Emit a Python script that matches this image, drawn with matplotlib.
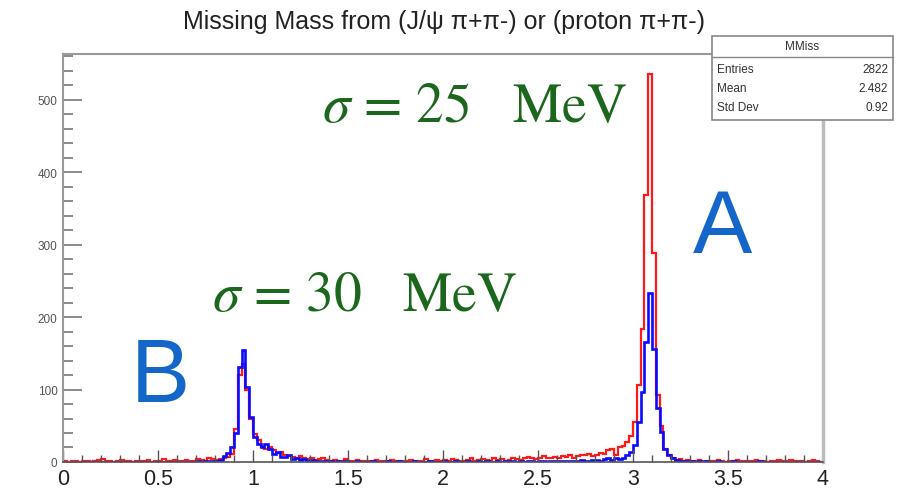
import numpy as np
import matplotlib
matplotlib.use('Agg')
import matplotlib.pyplot as plt
from matplotlib.patches import Rectangle
from matplotlib.lines import Line2D

# histogram binning: 200 bins of 0.02 GeV between 0 and 4
bin_edges = np.linspace(0, 4, 201)

# red histogram (counts per bin)
red_counts = [
    1, 0, 2, 1, 0, 1, 2, 0, 1, 3,
    4, 2, 1, 0, 2, 3, 1, 2, 0, 1,
    2, 1, 3, 0, 1, 2, 4, 1, 2, 3,
    1, 2, 3, 1, 2, 4, 3, 2, 5, 4,
    3, 4, 5, 7, 11, 46, 120, 135, 100, 60,
    38, 30, 21, 18, 20, 16, 12, 14, 9, 8,
    7, 6, 8, 5, 4, 6, 3, 4, 5, 3,
    2, 3, 1, 2, 4, 2, 1, 3, 2, 1,
    2, 1, 3, 2, 1, 2, 3, 1, 2, 2,
    1, 3, 2, 1, 2, 4, 2, 1, 3, 2,
    3, 2, 4, 3, 2, 1, 3, 5, 2, 3,
    4, 3, 2, 5, 3, 4, 2, 3, 5, 4,
    3, 5, 7, 6, 4, 5, 8, 6, 5, 7,
    6, 8, 7, 9, 6, 8, 10, 9, 11, 8,
    10, 13, 11, 17, 18, 10, 20, 22, 28, 36,
    55, 106, 184, 368, 535, 288, 92, 50, 18, 9,
    5, 3, 4, 2, 3, 1, 2, 3, 1, 2,
    1, 2, 3, 1, 0, 2, 1, 3, 1, 2,
    2, 1, 3, 2, 1, 0, 2, 1, 3, 1,
    1, 3, 2, 1, 2, 0, 1, 3, 1, 0,
]

# blue histogram (counts per bin)
blue_counts = [
    0, 0, 0, 0, 0, 0, 0, 0, 0, 0,
    0, 0, 0, 0, 0, 0, 0, 0, 0, 0,
    0, 0, 0, 0, 0, 0, 0, 0, 0, 0,
    0, 0, 0, 0, 0, 1, 0, 1, 2, 1,
    2, 3, 8, 13, 20, 40, 131, 154, 103, 62,
    35, 25, 21, 25, 18, 11, 14, 7, 7, 10,
    4, 5, 3, 4, 2, 3, 2, 1, 2, 1,
    1, 0, 1, 0, 1, 0, 0, 1, 0, 0,
    0, 1, 0, 0, 0, 1, 0, 0, 1, 0,
    0, 0, 1, 0, 0, 0, 1, 0, 0, 0,
    1, 0, 0, 1, 0, 0, 1, 0, 0, 1,
    0, 1, 0, 0, 1, 0, 1, 0, 1, 0,
    1, 0, 1, 1, 0, 1, 1, 0, 2, 1,
    1, 2, 1, 2, 1, 2, 3, 2, 2, 3,
    3, 2, 4, 5, 3, 6, 4, 6, 9, 14,
    23, 55, 97, 166, 233, 156, 75, 41, 18, 9,
    5, 3, 2, 1, 2, 1, 0, 1, 0, 1,
    0, 0, 1, 0, 0, 0, 1, 0, 0, 0,
    0, 0, 0, 1, 0, 0, 0, 0, 0, 0,
    0, 0, 0, 0, 0, 0, 0, 0, 0, 0,
]

title = 'Missing Mass from (J/\u03c8 \u03c0+\u03c0-) or (proton \u03c0+\u03c0-)'
stats_name = 'MMiss'
stats_rows = [('Entries', '2822'), ('Mean', '2.482'), ('Std Dev', '0.92')]

plt.rcParams['font.family'] = ['Liberation Sans', 'DejaVu Sans']
plt.rcParams['mathtext.fontset'] = 'stix'

fig = plt.figure(figsize=(9, 4.89), dpi=100)
ax = fig.add_axes([0.07, 0.0532, 0.8444, 0.8343])

ax.stairs(red_counts, bin_edges, color='#ff1a1a', linewidth=1.6, baseline=None)
ax.stairs(blue_counts, bin_edges, color='#0a0aff', linewidth=1.9, baseline=None)

ax.set_xlim(0, 4)
ax.set_ylim(0, 563)

ax.set_xticks(np.arange(0, 4.01, 0.5))
ax.set_xticklabels(['0', '0.5', '1', '1.5', '2', '2.5', '3', '3.5', '4'])
ax.set_xticks(np.arange(0, 4.01, 0.1), minor=True)
ax.set_yticks(np.arange(0, 501, 100))
ax.set_yticks(np.arange(0, 561, 20), minor=True)

ax.tick_params(axis='x', which='major', direction='in', length=9, width=1,
               color='#555555', labelsize=15.5, labelcolor='#222222', pad=4)
ax.tick_params(axis='x', which='minor', direction='in', length=5, width=1, color='#555555')
ax.tick_params(axis='y', which='major', direction='in', length=14, width=1.2,
               color='#777777', labelsize=8.5, labelcolor='#555555', pad=4)
ax.tick_params(axis='y', which='minor', direction='in', length=7, width=1.2, color='#777777')

for side in ['left', 'top', 'right']:
    ax.spines[side].set_color('#999999')
    ax.spines[side].set_linewidth(1.5)
ax.spines['right'].set_color('#bbbbbb')
ax.spines['right'].set_linewidth(2.5)
ax.spines['bottom'].set_color('#555555')
ax.spines['bottom'].set_linewidth(1.2)

fig.text(0.493, 1 - 22 / 489, title, ha='center', va='center', fontsize=18, color='#222222')

# stats box
box_x0, box_x1 = 712 / 900, 893 / 900
box_y0, box_y1 = 1 - 121 / 489, 1 - 37 / 489
head_y = 1 - 58 / 489
fig.patches.append(Rectangle((box_x0, box_y0), box_x1 - box_x0, box_y1 - box_y0,
                             transform=fig.transFigure, facecolor='white',
                             edgecolor='#888888', linewidth=1.2, zorder=5))
fig.lines.append(Line2D([box_x0, box_x1], [head_y, head_y], transform=fig.transFigure,
                        color='#888888', linewidth=1.0, zorder=6))
fig.text((box_x0 + box_x1) / 2, 1 - 47 / 489, stats_name, ha='center', va='center',
         fontsize=8.5, color='#333333', zorder=7)
for k, (name, val) in enumerate(stats_rows):
    yy = 1 - (70 + k * 19) / 489
    fig.text(717 / 900, yy, name, ha='left', va='center', fontsize=8.5, color='#333333', zorder=7)
    fig.text(888 / 900, yy, val, ha='right', va='center', fontsize=8.5, color='#333333', zorder=7)

# annotations
green = '#1d661d'
blue = '#1466c8'
fig.text(322 / 900, 1 - 109 / 489, '$\\sigma$ = 25   MeV', fontsize=40, color=green,
         family='STIXGeneral', ha='left', va='center')
fig.text(212 / 900, 1 - 298 / 489, '$\\sigma$ = 30   MeV', fontsize=40, color=green,
         family='STIXGeneral', ha='left', va='center')
fig.text(722 / 900, 1 - 230 / 489, 'A', fontsize=64, color=blue, ha='center', va='center')
fig.text(160 / 900, 1 - 379 / 489, 'B', fontsize=64, color=blue, ha='center', va='center')

fig.savefig('out.png', dpi=100)
